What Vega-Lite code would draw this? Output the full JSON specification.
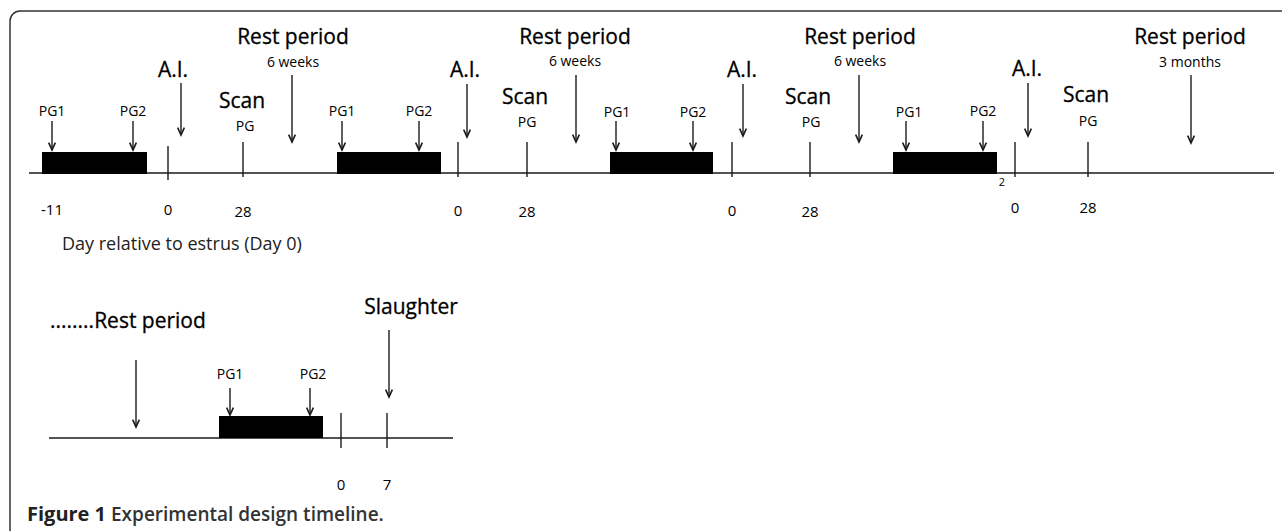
{
  "$schema": "https://vega.github.io/schema/vega-lite/v6.json",
  "width": 1282,
  "height": 531,
  "padding": 0,
  "autosize": "none",
  "background": "white",
  "config": {"view": {"stroke": null}},
  "datasets": {
    "frame": [{"x": 10, "x2": 1310, "y": 11, "y2": 570}],
    "hlines": [
      {"x": 29, "x2": 1274, "y": 173},
      {"x": 49, "x2": 453, "y": 438}
    ],
    "boxes": [
      {"x": 42, "x2": 147, "y": 152, "y2": 174},
      {"x": 337, "x2": 441, "y": 152, "y2": 174},
      {"x": 610, "x2": 713, "y": 152, "y2": 174},
      {"x": 893, "x2": 997, "y": 152, "y2": 174},
      {"x": 219, "x2": 323, "y": 416, "y2": 438}
    ],
    "ticks": [
      {"x": 168, "y": 146, "y2": 180},
      {"x": 243, "y": 142, "y2": 177},
      {"x": 458, "y": 142, "y2": 177},
      {"x": 527, "y": 142, "y2": 177},
      {"x": 732, "y": 142, "y2": 177},
      {"x": 810, "y": 142, "y2": 177},
      {"x": 1015, "y": 142, "y2": 177},
      {"x": 1088, "y": 142, "y2": 177},
      {"x": 341, "y": 413, "y2": 448},
      {"x": 387, "y": 413, "y2": 448}
    ],
    "arrows": [
      {"x": 52, "y": 121, "y2": 150},
      {"x": 133, "y": 121, "y2": 150},
      {"x": 342, "y": 121, "y2": 150},
      {"x": 419, "y": 121, "y2": 150},
      {"x": 616, "y": 121, "y2": 150},
      {"x": 693, "y": 121, "y2": 150},
      {"x": 906, "y": 121, "y2": 150},
      {"x": 983, "y": 121, "y2": 150},
      {"x": 181, "y": 83, "y2": 135},
      {"x": 467, "y": 84, "y2": 137},
      {"x": 743, "y": 84, "y2": 136},
      {"x": 1028, "y": 83, "y2": 136},
      {"x": 292, "y": 75, "y2": 142},
      {"x": 576, "y": 75, "y2": 142},
      {"x": 859, "y": 75, "y2": 142},
      {"x": 1191, "y": 75, "y2": 143},
      {"x": 230, "y": 388, "y2": 415},
      {"x": 310, "y": 388, "y2": 415},
      {"x": 136, "y": 360, "y2": 427},
      {"x": 389, "y": 330, "y2": 397}
    ],
    "labels": [
      {"x": 293, "y": 38, "text": "Rest period", "kind": "big"},
      {"x": 575, "y": 38, "text": "Rest period", "kind": "big"},
      {"x": 860, "y": 38, "text": "Rest period", "kind": "big"},
      {"x": 1190, "y": 38, "text": "Rest period", "kind": "big"},
      {"x": 173, "y": 71, "text": "A.I.", "kind": "big"},
      {"x": 465, "y": 71, "text": "A.I.", "kind": "big"},
      {"x": 742, "y": 71, "text": "A.I.", "kind": "big"},
      {"x": 1027, "y": 70, "text": "A.I.", "kind": "big"},
      {"x": 242, "y": 102, "text": "Scan", "kind": "big"},
      {"x": 525, "y": 98, "text": "Scan", "kind": "big"},
      {"x": 808, "y": 98, "text": "Scan", "kind": "big"},
      {"x": 1086, "y": 96, "text": "Scan", "kind": "big"},
      {"x": 411, "y": 308, "text": "Slaughter", "kind": "big"},
      {"x": 50, "y": 322, "text": "........Rest period", "kind": "bigL"},
      {"x": 293, "y": 63, "text": "6 weeks", "kind": "sub"},
      {"x": 575, "y": 62, "text": "6 weeks", "kind": "sub"},
      {"x": 860, "y": 62, "text": "6 weeks", "kind": "sub"},
      {"x": 1190, "y": 63, "text": "3 months", "kind": "sub"},
      {"x": 245, "y": 127, "text": "PG", "kind": "pg"},
      {"x": 527, "y": 123, "text": "PG", "kind": "pg"},
      {"x": 811, "y": 123, "text": "PG", "kind": "pg"},
      {"x": 1088, "y": 122, "text": "PG", "kind": "pg"},
      {"x": 52, "y": 112, "text": "PG1", "kind": "pg"},
      {"x": 133, "y": 112, "text": "PG2", "kind": "pg"},
      {"x": 342, "y": 112, "text": "PG1", "kind": "pg"},
      {"x": 419, "y": 112, "text": "PG2", "kind": "pg"},
      {"x": 617, "y": 113, "text": "PG1", "kind": "pg"},
      {"x": 693, "y": 113, "text": "PG2", "kind": "pg"},
      {"x": 909, "y": 113, "text": "PG1", "kind": "pg"},
      {"x": 983, "y": 112, "text": "PG2", "kind": "pg"},
      {"x": 230, "y": 375, "text": "PG1", "kind": "pg"},
      {"x": 313, "y": 375, "text": "PG2", "kind": "pg"},
      {"x": 1002, "y": 183, "text": "2", "kind": "tiny"},
      {"x": 52, "y": 210, "text": "-11", "kind": "num"},
      {"x": 168, "y": 210, "text": "0", "kind": "num"},
      {"x": 243, "y": 212, "text": "28", "kind": "num"},
      {"x": 458, "y": 211, "text": "0", "kind": "num"},
      {"x": 527, "y": 212, "text": "28", "kind": "num"},
      {"x": 732, "y": 211, "text": "0", "kind": "num"},
      {"x": 810, "y": 212, "text": "28", "kind": "num"},
      {"x": 1015, "y": 208, "text": "0", "kind": "num"},
      {"x": 1088, "y": 208, "text": "28", "kind": "num"},
      {"x": 341, "y": 485, "text": "0", "kind": "num"},
      {"x": 387, "y": 485, "text": "7", "kind": "num"},
      {"x": 62, "y": 245, "text": "Day relative to estrus (Day 0)", "kind": "day"},
      {"x": 27, "y": 515, "text": "Figure 1", "kind": "capB"},
      {"x": 111, "y": 515, "text": "Experimental design timeline.", "kind": "cap"}
    ]
  },
  "layer": [
    {
      "data": {"name": "frame"},
      "mark": {"type": "rect", "fill": "white", "fillOpacity": 0, "stroke": "#333333", "strokeWidth": 1.5, "cornerRadius": 10, "clip": true},
      "encoding": {
        "x": {"field": "x", "type": "quantitative", "scale": {"domain": [0, 1282], "nice": false, "zero": false}, "axis": null},
        "x2": {"field": "x2"},
        "y": {"field": "y", "type": "quantitative", "scale": {"domain": [0, 531], "reverse": true, "nice": false, "zero": false}, "axis": null},
        "y2": {"field": "y2"}
      }
    },
    {
      "data": {"name": "hlines"},
      "mark": {"type": "rule", "color": "#1a1a1a", "strokeWidth": 1.4},
      "encoding": {
        "x": {"field": "x", "type": "quantitative", "axis": null},
        "x2": {"field": "x2"},
        "y": {"field": "y", "type": "quantitative", "axis": null}
      }
    },
    {
      "data": {"name": "boxes"},
      "mark": {"type": "rect", "color": "#000000"},
      "encoding": {
        "x": {"field": "x", "type": "quantitative", "axis": null},
        "x2": {"field": "x2"},
        "y": {"field": "y", "type": "quantitative", "axis": null},
        "y2": {"field": "y2"}
      }
    },
    {
      "data": {"name": "ticks"},
      "mark": {"type": "rule", "color": "#1a1a1a", "strokeWidth": 1.4},
      "encoding": {
        "x": {"field": "x", "type": "quantitative", "axis": null},
        "y": {"field": "y", "type": "quantitative", "axis": null},
        "y2": {"field": "y2"}
      }
    },
    {
      "data": {"name": "arrows"},
      "mark": {"type": "rule", "color": "#1a1a1a", "strokeWidth": 1.4},
      "encoding": {
        "x": {"field": "x", "type": "quantitative", "axis": null},
        "y": {"field": "y", "type": "quantitative", "axis": null},
        "y2": {"field": "y2"}
      }
    },
    {
      "data": {"name": "arrows"},
      "mark": {"type": "point", "shape": "M-0.45,-1L0,0L0.45,-1", "filled": false, "stroke": "#1a1a1a", "strokeWidth": 1.6, "size": 220, "opacity": 1},
      "encoding": {
        "x": {"field": "x", "type": "quantitative", "axis": null},
        "y": {"field": "y2", "type": "quantitative", "axis": null}
      }
    },
    {
      "data": {"name": "labels"},
      "transform": [{"filter": "datum.kind === 'big'"}],
      "mark": {"type": "text", "font": "Open Sans", "fontSize": 21, "align": "center", "baseline": "middle", "color": "#000000", "stroke": "#000000", "strokeWidth": 0.3},
      "encoding": {
        "x": {"field": "x", "type": "quantitative", "axis": null},
        "y": {"field": "y", "type": "quantitative", "axis": null},
        "text": {"field": "text"}
      }
    },
    {
      "data": {"name": "labels"},
      "transform": [{"filter": "datum.kind === 'bigL'"}],
      "mark": {"type": "text", "font": "Open Sans", "fontSize": 21, "align": "left", "baseline": "middle", "color": "#000000", "stroke": "#000000", "strokeWidth": 0.3},
      "encoding": {
        "x": {"field": "x", "type": "quantitative", "axis": null},
        "y": {"field": "y", "type": "quantitative", "axis": null},
        "text": {"field": "text"}
      }
    },
    {
      "data": {"name": "labels"},
      "transform": [{"filter": "datum.kind === 'sub'"}],
      "mark": {"type": "text", "font": "Open Sans", "fontSize": 14, "align": "center", "baseline": "middle", "color": "#000000"},
      "encoding": {
        "x": {"field": "x", "type": "quantitative", "axis": null},
        "y": {"field": "y", "type": "quantitative", "axis": null},
        "text": {"field": "text"}
      }
    },
    {
      "data": {"name": "labels"},
      "transform": [{"filter": "datum.kind === 'pg'"}],
      "mark": {"type": "text", "font": "Open Sans", "fontSize": 14, "align": "center", "baseline": "middle", "color": "#000000"},
      "encoding": {
        "x": {"field": "x", "type": "quantitative", "axis": null},
        "y": {"field": "y", "type": "quantitative", "axis": null},
        "text": {"field": "text"}
      }
    },
    {
      "data": {"name": "labels"},
      "transform": [{"filter": "datum.kind === 'num'"}],
      "mark": {"type": "text", "font": "Open Sans", "fontSize": 15, "align": "center", "baseline": "middle", "color": "#000000"},
      "encoding": {
        "x": {"field": "x", "type": "quantitative", "axis": null},
        "y": {"field": "y", "type": "quantitative", "axis": null},
        "text": {"field": "text"}
      }
    },
    {
      "data": {"name": "labels"},
      "transform": [{"filter": "datum.kind === 'tiny'"}],
      "mark": {"type": "text", "font": "Open Sans", "fontSize": 11, "align": "center", "baseline": "middle", "color": "#000000"},
      "encoding": {
        "x": {"field": "x", "type": "quantitative", "axis": null},
        "y": {"field": "y", "type": "quantitative", "axis": null},
        "text": {"field": "text"}
      }
    },
    {
      "data": {"name": "labels"},
      "transform": [{"filter": "datum.kind === 'day'"}],
      "mark": {"type": "text", "font": "Open Sans", "fontSize": 18, "align": "left", "baseline": "middle", "color": "#222222"},
      "encoding": {
        "x": {"field": "x", "type": "quantitative", "axis": null},
        "y": {"field": "y", "type": "quantitative", "axis": null},
        "text": {"field": "text"}
      }
    },
    {
      "data": {"name": "labels"},
      "transform": [{"filter": "datum.kind === 'capB'"}],
      "mark": {"type": "text", "font": "Open Sans", "fontSize": 20, "fontWeight": "bold", "align": "left", "baseline": "middle", "color": "#222222"},
      "encoding": {
        "x": {"field": "x", "type": "quantitative", "axis": null},
        "y": {"field": "y", "type": "quantitative", "axis": null},
        "text": {"field": "text"}
      }
    },
    {
      "data": {"name": "labels"},
      "transform": [{"filter": "datum.kind === 'cap'"}],
      "mark": {"type": "text", "font": "Open Sans", "fontSize": 19, "fontWeight": 600, "align": "left", "baseline": "middle", "color": "#333333"},
      "encoding": {
        "x": {"field": "x", "type": "quantitative", "axis": null},
        "y": {"field": "y", "type": "quantitative", "axis": null},
        "text": {"field": "text"}
      }
    }
  ]
}
